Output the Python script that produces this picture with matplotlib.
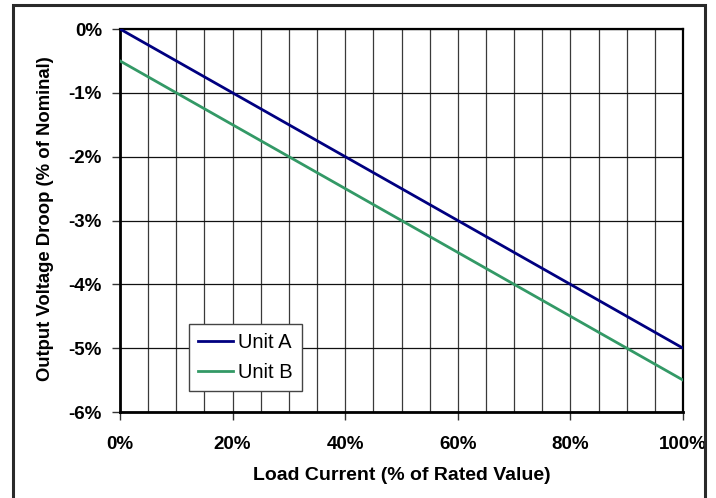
import matplotlib
matplotlib.use("Agg")
import matplotlib.pyplot as plt
from matplotlib.patches import Rectangle
from matplotlib.ticker import MultipleLocator, FixedLocator

load_pct = [0, 5, 10, 15, 20, 25, 30, 35, 40, 45, 50, 55, 60, 65, 70, 75, 80, 85, 90, 95, 100]
unit_a = [0.0, -0.25, -0.5, -0.75, -1.0, -1.25, -1.5, -1.75, -2.0, -2.25, -2.5, -2.75, -3.0,
          -3.25, -3.5, -3.75, -4.0, -4.25, -4.5, -4.75, -5.0]
unit_b = [-0.5, -0.75, -1.0, -1.25, -1.5, -1.75, -2.0, -2.25, -2.5, -2.75, -3.0, -3.25, -3.5,
          -3.75, -4.0, -4.25, -4.5, -4.75, -5.0, -5.25, -5.5]
series_names = ["Unit A", "Unit B"]
x_ticks = [0, 20, 40, 60, 80, 100]
x_tick_labels = ["0%", "20%", "40%", "60%", "80%", "100%"]
y_ticks = [0, -1, -2, -3, -4, -5, -6]
y_tick_labels = ["0%", "-1%", "-2%", "-3%", "-4%", "-5%", "-6%"]

plt.rcParams['font.family'] = ['Liberation Sans', 'DejaVu Sans']

fig = plt.figure(figsize=(7.16, 4.98), dpi=100)
fig.patch.set_facecolor('white')
W, H = 716, 498
L, R, T, B = 120, 683, 29, 412
ax = fig.add_axes([L / W, 1 - B / H, (R - L) / W, (B - T) / H])

# outer border
fig.patches.append(Rectangle((13 / W, -0.02), (705 - 13) / W, (1 - 5 / H) + 0.02,
                             transform=fig.transFigure, fill=False,
                             edgecolor='#2a2a2a', linewidth=2.2, zorder=0))

ax.plot(load_pct, unit_a, color='#000080', linewidth=2.0, label=series_names[0], zorder=3)
ax.plot(load_pct, unit_b, color='#339966', linewidth=2.0, label=series_names[1], zorder=3)

ax.set_xlim(0, 100)
ax.set_ylim(-6, 0)
ax.xaxis.set_major_locator(FixedLocator(x_ticks))
ax.set_xticklabels(x_tick_labels)
ax.xaxis.set_minor_locator(MultipleLocator(5))
ax.yaxis.set_major_locator(FixedLocator(y_ticks))
ax.set_yticklabels(y_tick_labels)

ax.grid(True, which='both', axis='x', color='#3a3a3a', linewidth=0.9, zorder=1)
ax.grid(True, which='major', axis='y', color='#111111', linewidth=0.9, zorder=1)

ax.tick_params(axis='both', which='major', length=6, width=1, color='#333333',
               labelsize=13.5)
ax.tick_params(axis='x', pad=11)
ax.tick_params(axis='y', pad=7)
ax.tick_params(axis='x', which='minor', length=0)
for lbl in ax.get_xticklabels() + ax.get_yticklabels():
    lbl.set_fontweight('bold')

for s in ['left', 'bottom']:
    ax.spines[s].set_linewidth(2.0)
for s in ['top', 'right']:
    ax.spines[s].set_linewidth(1.6)
for s in ax.spines.values():
    s.set_color('black')

ax.set_xlabel('Load Current (% of Rated Value)', fontsize=14, fontweight='bold')
ax.set_ylabel('Output Voltage Droop (% of Nominal)', fontsize=13.3, fontweight='bold')
ax.xaxis.label.set_va('center')
ax.yaxis.label.set_va('center')
ax.xaxis.set_label_coords((402 - L) / (R - L), (B - 475) / (B - T))
ax.yaxis.set_label_coords((46 - L) / (R - L), (B - 219) / (B - T))

leg = ax.legend(loc='lower left', bbox_to_anchor=((189 - L) / (R - L), (B - 391) / (B - T)),
                frameon=True, fancybox=False, fontsize=14.5, handlelength=1.75,
                handletextpad=0.25, borderpad=0.45, labelspacing=0.55, borderaxespad=0)
leg.get_frame().set_edgecolor('#444444')
leg.get_frame().set_linewidth(1.0)
leg.get_frame().set_alpha(1)
leg.set_zorder(5)

fig.savefig('out.png', dpi=100)
